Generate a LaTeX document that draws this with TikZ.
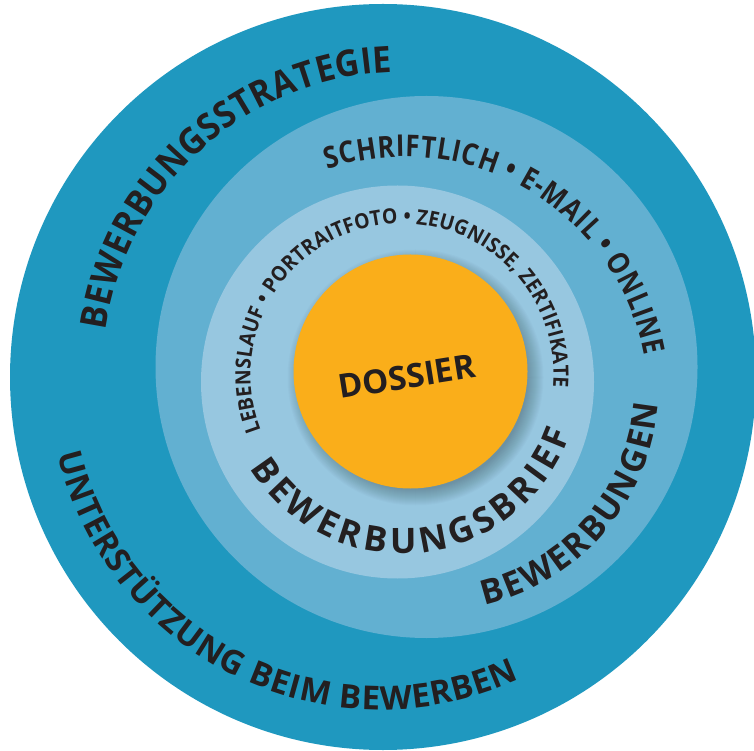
\documentclass[tikz,border=0pt]{standalone}
\usepackage{fontspec}
\setmainfont{Open Sans}
\newfontfamily\ringfont{Open Sans}[FakeStretch=0.92]
\newfontfamily\narrowfont{Open Sans}[FakeStretch=0.86]
\usepackage{xcolor}
\usetikzlibrary{decorations.text}

\definecolor{strategieblue}{RGB}{31,152,191}
\definecolor{bewerbungblue}{RGB}{98,176,209}
\definecolor{briefblue}{RGB}{151,199,224}
\definecolor{dossierorange}{RGB}{250,174,26}
\definecolor{ink}{RGB}{35,31,32}

\tikzset{
  ringtext/.style n args={3}{decorate, decoration={text along path,
      text align={fit to path},
      text={|#1\bfseries\fontsize{#2}{#2}\selectfont\color{ink}|#3}}},
}

\begin{document}
\begin{tikzpicture}[x=1pt, y=1pt]
  \useasboundingbox (0,0) rectangle (754,750);
  \coordinate (strategie) at (383,373);
  \coordinate (bewerbung) at (426.5,383);
  \coordinate (brief) at (397.5,368);
  \coordinate (kern) at (410.5,378.5);
  \fill[strategieblue] (strategie) circle[radius=373];
  \fill[bewerbungblue] (bewerbung) circle[radius=271];
  \fill[briefblue] (brief) circle[radius=196.5];
  \foreach \k in {0,...,16}
    \fill[black, opacity=0.014] ([shift={(5,-6)}]kern) circle[radius=112+\k];
  \fill[dossierorange] (kern) circle[radius=117];
  \node[font=\bfseries\fontsize{33}{33}\selectfont, text=ink, rotate=9,
        inner sep=0pt] (dossier) at (406.5,373.5) {DOSSIER};
  % ring labels
  \coordinate (mA) at (403,378);
  \coordinate (mB) at (381,372);
  \coordinate (mC) at (405,350);
  \coordinate (mD) at (434,364);
  \coordinate (mE) at (402,375);
  \path[ringtext={\ringfont}{36.5}{BEWERBUNGSSTRATEGIE}]
    ([shift={(172:300)}]mA) arc[start angle=172, end angle=92, radius=300];
  \path[ringtext={\normalfont}{33}{UNTERSTÜTZUNG BEIM BEWERBEN}]
    ([shift={(193.3:331.8)}]mB) arc[start angle=193.3, end angle=294.7, radius=331.8];
  \path[ringtext={\narrowfont}{30}{SCHRIFTLICH • E-MAIL • ONLINE}]
    ([shift={(108.6:243.3)}]mC) arc[start angle=108.6, end angle=10.5, radius=243.3];
  \path[ringtext={\normalfont}{34}{BEWERBUNGEN}]
    ([shift={(-77:225)}]mD) arc[start angle=-77, end angle=-4.5, radius=225];
  \path[ringtext={\ringfont}{21}{LEBENSLAUF • PORTRAITFOTO • ZEUGNISSE, ZERTIFIKATE}]
    ([shift={(201.4:151.5)}]mE) arc[start angle=201.4, end angle=-4.7, radius=151.5];
  \path[ringtext={\normalfont}{35}{BEWERBUNGSBRIEF}]
    ([shift={(211.5:178.5)}]mE) arc[start angle=211.5, end angle=340.8, radius=178.5];
\end{tikzpicture}
\end{document}
